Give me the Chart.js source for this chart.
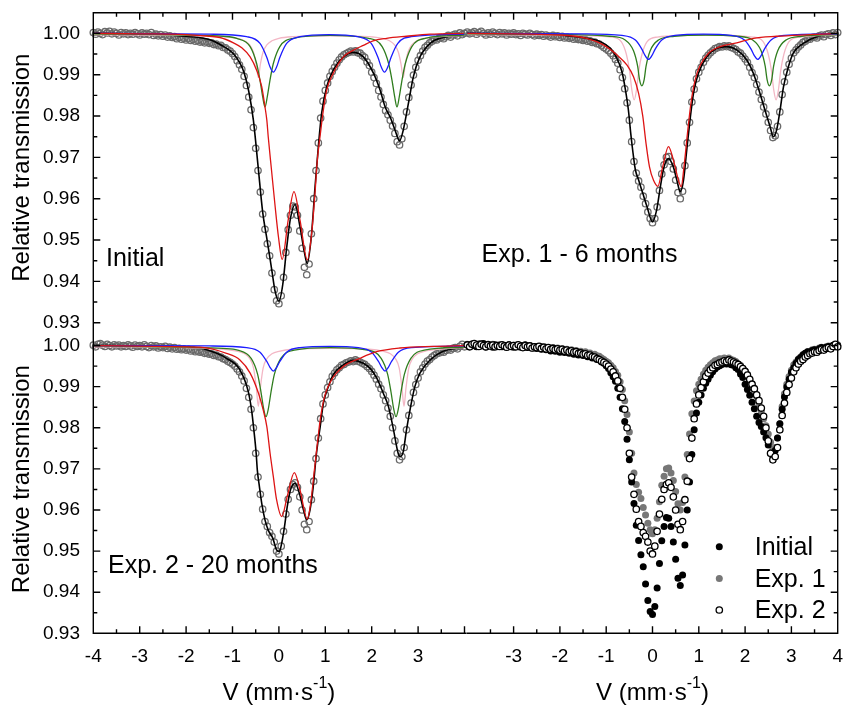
<!DOCTYPE html>
<html>
<head>
<meta charset="utf-8">
<title>Mössbauer spectra</title>
<script src="https://cdn.jsdelivr.net/npm/chart.js@4.4.1/dist/chart.umd.min.js"></script>
<style>
  html, body { margin: 0; padding: 0; background: #fff; }
  #wrap { position: relative; width: 843px; height: 706px; overflow: hidden; background: #fff; }
  #wrap canvas { position: absolute; }
</style>
</head>
<body>
<div id="wrap"></div>
<script>
const FONT = '"Liberation Sans", Arial, sans-serif';

// velocity of the measured channels (mm/s)
const velocity = [
  -4.00,-3.95,-3.90,-3.85,-3.80,-3.75,-3.70,-3.65,-3.60,-3.55,-3.50,-3.45,-3.40,-3.35,-3.30,-3.25,-3.20,-3.15,-3.10,-3.05,
  -3.00,-2.95,-2.90,-2.85,-2.80,-2.75,-2.70,-2.65,-2.60,-2.55,-2.50,-2.45,-2.40,-2.35,-2.30,-2.25,-2.20,-2.15,-2.10,-2.05,
  -2.00,-1.95,-1.90,-1.85,-1.80,-1.75,-1.70,-1.65,-1.60,-1.55,-1.50,-1.45,-1.40,-1.35,-1.30,-1.25,-1.20,-1.15,-1.10,-1.05,
  -1.00,-0.95,-0.90,-0.85,-0.80,-0.75,-0.70,-0.65,-0.60,-0.55,-0.50,-0.45,-0.40,-0.35,-0.30,-0.25,-0.20,-0.15,-0.10,-0.05,
  0.00,0.05,0.10,0.15,0.20,0.25,0.30,0.35,0.40,0.45,0.50,0.55,0.60,0.65,0.70,0.75,0.80,0.85,0.90,0.95,
  1.00,1.05,1.10,1.15,1.20,1.25,1.30,1.35,1.40,1.45,1.50,1.55,1.60,1.65,1.70,1.75,1.80,1.85,1.90,1.95,
  2.00,2.05,2.10,2.15,2.20,2.25,2.30,2.35,2.40,2.45,2.50,2.55,2.60,2.65,2.70,2.75,2.80,2.85,2.90,2.95,
  3.00,3.05,3.10,3.15,3.20,3.25,3.30,3.35,3.40,3.45,3.50,3.55,3.60,3.65,3.70,3.75,3.80,3.85,3.90,3.95,
  4.00
];

// measured relative transmission
const initialData = [
  1.0002,0.9998,1.0003,1.0000,0.9997,1.0004,1.0001,1.0005,0.9999,1.0003,1.0000,0.9996,1.0002,0.9999,1.0001,0.9997,1.0000,0.9998,1.0002,0.9999,
  0.9996,1.0001,0.9998,1.0000,0.9997,1.0002,0.9995,0.9998,0.9994,0.9997,0.9993,0.9996,0.9991,0.9994,0.9990,0.9992,0.9987,0.9990,0.9986,0.9988,
  0.9984,0.9987,0.9983,0.9985,0.9981,0.9983,0.9979,0.9981,0.9977,0.9979,0.9976,0.9977,0.9973,0.9974,0.9970,0.9971,0.9966,0.9965,0.9960,0.9957,
  0.9951,0.9944,0.9934,0.9924,0.9913,0.9896,0.9874,0.9846,0.9815,0.9772,0.9722,0.9668,0.9616,0.9563,0.9526,0.9491,0.9462,0.9420,0.9380,0.9353,
  0.9346,0.9365,0.9410,0.9470,0.9525,0.9560,0.9582,0.9580,0.9560,0.9522,0.9480,0.9434,0.9416,0.9442,0.9515,0.9600,0.9668,0.9735,0.9795,0.9836,
  0.9862,0.9880,0.9896,0.9908,0.9918,0.9928,0.9936,0.9943,0.9948,0.9951,0.9954,0.9957,0.9955,0.9958,0.9953,0.9952,0.9946,0.9942,0.9931,0.9922,
  0.9906,0.9893,0.9879,0.9862,0.9846,0.9828,0.9813,0.9803,0.9790,0.9776,0.9758,0.9738,0.9730,0.9745,0.9775,0.9810,0.9845,0.9875,0.9899,0.9918,
  0.9935,0.9946,0.9957,0.9966,0.9971,0.9977,0.9981,0.9985,0.9984,0.9988,0.9990,0.9987,0.9992,0.9995,0.9991,0.9996,0.9998,0.9994,1.0001,0.9997,
  1.0000
];
const exp1Data = [
  1.0003,0.9999,1.0001,1.0004,0.9998,1.0002,1.0005,1.0000,0.9996,1.0001,0.9998,1.0003,1.0000,0.9997,1.0002,0.9999,1.0001,0.9996,1.0000,0.9998,
  1.0001,0.9997,0.9999,0.9995,1.0000,0.9998,0.9996,1.0000,0.9997,0.9994,0.9998,0.9995,0.9997,0.9993,0.9996,0.9994,0.9991,0.9995,0.9992,0.9994,
  0.9990,0.9993,0.9989,0.9991,0.9988,0.9990,0.9986,0.9988,0.9985,0.9986,0.9983,0.9985,0.9981,0.9982,0.9978,0.9979,0.9975,0.9974,0.9970,0.9966,
  0.9962,0.9958,0.9952,0.9946,0.9937,0.9928,0.9912,0.9893,0.9866,0.9832,0.9790,0.9738,0.9690,0.9662,0.9643,0.9628,0.9606,0.9588,0.9568,0.9552,
  0.9542,0.9552,0.9580,0.9620,0.9660,0.9682,0.9700,0.9702,0.9690,0.9672,0.9645,0.9615,0.9600,0.9618,0.9680,0.9735,0.9785,0.9834,0.9865,0.9890,
  0.9906,0.9918,0.9930,0.9940,0.9947,0.9953,0.9958,0.9963,0.9965,0.9968,0.9967,0.9970,0.9968,0.9970,0.9966,0.9964,0.9961,0.9955,0.9952,0.9945,
  0.9938,0.9930,0.9918,0.9905,0.9893,0.9876,0.9858,0.9840,0.9822,0.9805,0.9785,0.9765,0.9748,0.9752,0.9775,0.9810,0.9852,0.9883,0.9906,0.9925,
  0.9940,0.9953,0.9960,0.9967,0.9972,0.9978,0.9981,0.9985,0.9986,0.9990,0.9991,0.9989,0.9994,0.9996,0.9992,0.9997,0.9999,0.9995,1.0001,0.9997,
  1.0002
];
const exp2Data = [
  1.0001,0.9997,1.0003,1.0005,1.0001,0.9998,1.0003,1.0000,0.9997,1.0002,0.9999,1.0001,0.9997,1.0000,0.9998,1.0002,0.9999,0.9996,1.0001,0.9998,
  1.0000,0.9997,1.0002,0.9998,0.9995,1.0000,0.9997,0.9999,0.9994,0.9997,0.9995,0.9998,0.9993,0.9996,0.9992,0.9995,0.9991,0.9993,0.9990,0.9992,
  0.9989,0.9991,0.9987,0.9989,0.9985,0.9987,0.9984,0.9985,0.9981,0.9982,0.9979,0.9980,0.9976,0.9977,0.9973,0.9972,0.9968,0.9966,0.9962,0.9959,
  0.9955,0.9950,0.9943,0.9936,0.9926,0.9914,0.9896,0.9874,0.9845,0.9800,0.9738,0.9680,0.9638,0.9602,0.9572,0.9560,0.9545,0.9536,0.9522,0.9500,
  0.9493,0.9512,0.9548,0.9590,0.9626,0.9650,0.9662,0.9666,0.9655,0.9632,0.9600,0.9565,0.9552,0.9572,0.9625,0.9670,0.9725,0.9775,0.9822,0.9858,
  0.9880,0.9898,0.9912,0.9925,0.9933,0.9941,0.9946,0.9952,0.9954,0.9958,0.9960,0.9963,0.9961,0.9965,0.9962,0.9960,0.9957,0.9954,0.9949,0.9944,
  0.9937,0.9928,0.9918,0.9906,0.9895,0.9880,0.9866,0.9848,0.9828,0.9800,0.9768,0.9738,0.9722,0.9730,0.9752,0.9795,0.9830,0.9860,0.9886,0.9905,
  0.9921,0.9936,0.9946,0.9955,0.9962,0.9966,0.9972,0.9976,0.9980,0.9982,0.9985,0.9984,0.9988,0.9991,0.9989,0.9993,0.9995,0.9992,0.9998,1.0003,
  0.9997
];

// fitted curves, [velocity, transmission]
const initialTotal = [[-4,1.0000],[-3,0.9999],[-2.5,0.9997],[-2,0.9993],[-1.5,0.9985],[-1.25,0.9972],[-1.0,0.9953],[-0.85,0.9930],[-0.75,0.9905],[-0.65,0.9860],[-0.55,0.9790],[-0.45,0.9680],[-0.35,0.9568],[-0.25,0.9497],[-0.15,0.9425],[-0.08,0.9375],[0,0.9352],[0.08,0.9390],[0.17,0.9484],[0.25,0.9553],[0.35,0.9586],[0.45,0.9535],[0.55,0.9470],[0.61,0.9443],[0.7,0.9510],[0.78,0.9630],[0.85,0.9726],[0.92,0.9806],[1.03,0.9871],[1.17,0.9911],[1.39,0.9943],[1.6,0.9954],[1.82,0.9943],[2.04,0.9903],[2.18,0.9863],[2.29,0.9822],[2.4,0.9797],[2.5,0.9767],[2.6,0.9740],[2.68,0.9766],[2.79,0.9830],[2.9,0.9896],[3.04,0.9943],[3.26,0.9976],[3.5,0.9989],[3.85,0.9995],[4,0.9996]];
const initialRed = [[-4,1.0000],[-3,0.9999],[-2,0.9997],[-1.5,0.9993],[-1.27,0.9990],[-0.98,0.9977],[-0.8,0.9965],[-0.62,0.9943],[-0.48,0.9911],[-0.37,0.9871],[-0.30,0.9822],[-0.26,0.9790],[-0.23,0.9750],[-0.16,0.9670],[-0.08,0.9580],[-0.01,0.9508],[0.07,0.9453],[0.2,0.9548],[0.325,0.9617],[0.455,0.9548],[0.613,0.9452],[0.706,0.9516],[0.778,0.9613],[0.828,0.9694],[0.886,0.9750],[0.958,0.9814],[1.03,0.9863],[1.17,0.9903],[1.39,0.9943],[1.6,0.9959],[1.82,0.9971],[2.03,0.9982],[2.32,0.9988],[2.75,0.9993],[3.26,0.9998],[4,1.0000]];
const initialBlue = [[-4,1.0000],[-1.5,0.9998],[-0.695,0.9992],[-0.407,0.9976],[-0.264,0.9943],[-0.192,0.9919],[-0.12,0.9906],[-0.048,0.9919],[0.024,0.9943],[0.167,0.9976],[0.455,0.9992],[1.08,0.9997],[1.70,0.9992],[1.989,0.9976],[2.132,0.9943],[2.204,0.9919],[2.276,0.9906],[2.348,0.9919],[2.42,0.9943],[2.563,0.9976],[2.851,0.9992],[4,0.9998]];
const initialGreen = [[-4,0.9999],[-2,0.9996],[-1.2,0.9993],[-0.91,0.9988],[-0.62,0.9968],[-0.48,0.9927],[-0.408,0.9887],[-0.35,0.9847],[-0.30,0.9822],[-0.25,0.9847],[-0.192,0.9887],[-0.12,0.9927],[0.02,0.9968],[0.31,0.9988],[1.1,0.9995],[1.935,0.9988],[2.225,0.9968],[2.365,0.9927],[2.437,0.9887],[2.495,0.9847],[2.545,0.9822],[2.595,0.9847],[2.653,0.9887],[2.725,0.9927],[2.865,0.9968],[3.155,0.9988],[4,0.9996]];
const initialPink = [[-4,0.9997],[-2,0.9995],[-1.2,0.9992],[-0.9,0.9988],[-0.74,0.9982],[-0.63,0.9972],[-0.55,0.9955],[-0.49,0.9925],[-0.443,0.9893],[-0.40,0.9925],[-0.34,0.9955],[-0.26,0.9972],[-0.15,0.9982],[0.0,0.9988],[0.3,0.9992],[1.12,0.9994],[1.94,0.9992],[2.223,0.9988],[2.383,0.9982],[2.493,0.9972],[2.573,0.9955],[2.633,0.9925],[2.68,0.9893],[2.723,0.9925],[2.783,0.9955],[2.863,0.9972],[2.973,0.9982],[3.123,0.9988],[3.423,0.9992],[4,0.9995]];

const exp1Total = [[-4,1.0000],[-3,0.9999],[-2,0.9996],[-1.42,0.9988],[-1.13,0.9980],[-0.91,0.9964],[-0.77,0.9940],[-0.66,0.9907],[-0.59,0.9867],[-0.52,0.9814],[-0.47,0.9758],[-0.42,0.9710],[-0.37,0.9670],[-0.30,0.9645],[-0.21,0.9613],[-0.12,0.9581],[0.0,0.9544],[0.09,0.9573],[0.17,0.9629],[0.25,0.9677],[0.345,0.9697],[0.45,0.9677],[0.525,0.9645],[0.6,0.9617],[0.67,0.9645],[0.74,0.9718],[0.81,0.9790],[0.885,0.9855],[0.99,0.9903],[1.17,0.9943],[1.39,0.9964],[1.6,0.9968],[1.82,0.9960],[2.04,0.9935],[2.18,0.9903],[2.32,0.9855],[2.43,0.9814],[2.54,0.9774],[2.61,0.9750],[2.68,0.9766],[2.755,0.9814],[2.83,0.9871],[2.935,0.9919],[3.04,0.9952],[3.26,0.9976],[3.55,0.9992],[4,0.9998]];
const exp1Red = [[-4,1.0000],[-2,0.9996],[-1.42,0.9988],[-1.06,0.9972],[-0.77,0.9948],[-0.55,0.9923],[-0.41,0.9895],[-0.30,0.9855],[-0.21,0.9800],[-0.14,0.9734],[-0.065,0.9677],[0.02,0.9645],[0.115,0.9630],[0.22,0.9677],[0.345,0.9726],[0.45,0.9694],[0.56,0.9645],[0.62,0.9629],[0.68,0.9677],[0.755,0.9758],[0.83,0.9831],[0.92,0.9887],[1.03,0.9923],[1.21,0.9952],[1.46,0.9968],[1.82,0.9977],[2.18,0.9988],[2.68,0.9993],[3.4,0.9997],[4,1.0000]];
const exp1Blue = [[-4,1.0000],[-1.5,0.9999],[-0.66,0.9995],[-0.37,0.9984],[-0.23,0.9962],[-0.158,0.9946],[-0.086,0.9937],[-0.014,0.9946],[0.058,0.9962],[0.2,0.9984],[0.49,0.9995],[1.1,0.9998],[1.7,0.9995],[1.986,0.9984],[2.129,0.9962],[2.2,0.9946],[2.273,0.9937],[2.345,0.9946],[2.417,0.9962],[2.56,0.9984],[2.85,0.9995],[4,0.9999]];
const exp1Green = [[-4,0.9999],[-2,0.9997],[-0.93,0.9993],[-0.59,0.9984],[-0.41,0.9958],[-0.32,0.9920],[-0.28,0.9888],[-0.23,0.9873],[-0.18,0.9888],[-0.14,0.9920],[-0.05,0.9958],[0.13,0.9984],[0.47,0.9993],[1.15,0.9996],[1.825,0.9993],[2.165,0.9984],[2.345,0.9958],[2.435,0.9920],[2.475,0.9888],[2.525,0.9873],[2.575,0.9888],[2.615,0.9920],[2.705,0.9958],[2.885,0.9984],[3.225,0.9993],[4,0.9997]];
const exp1Pink = [[-4,0.9997],[-2,0.9996],[-0.896,0.9991],[-0.676,0.9980],[-0.566,0.9950],[-0.496,0.9910],[-0.446,0.9863],[-0.396,0.9839],[-0.346,0.9863],[-0.296,0.9910],[-0.226,0.9950],[-0.116,0.9980],[0.104,0.9991],[1.14,0.9996],[2.169,0.9991],[2.389,0.9980],[2.499,0.9950],[2.569,0.9910],[2.619,0.9863],[2.669,0.9839],[2.719,0.9863],[2.769,0.9910],[2.839,0.9950],[2.949,0.9980],[3.169,0.9991],[4,0.9996]];

const exp2Total = [[-4,1.0000],[-3,0.9999],[-2,0.9996],[-1.7,0.9994],[-1.34,0.9981],[-1.13,0.9969],[-0.84,0.9941],[-0.66,0.9888],[-0.59,0.9844],[-0.54,0.9795],[-0.49,0.9738],[-0.465,0.9697],[-0.42,0.9657],[-0.37,0.9616],[-0.30,0.9576],[-0.23,0.9551],[-0.13,0.9531],[-0.05,0.9503],[0.01,0.9499],[0.06,0.9519],[0.12,0.9559],[0.18,0.9608],[0.25,0.9649],[0.35,0.9665],[0.44,0.9641],[0.53,0.9600],[0.6,0.9576],[0.67,0.9600],[0.74,0.9657],[0.81,0.9738],[0.89,0.9803],[0.96,0.9860],[1.065,0.9900],[1.17,0.9929],[1.39,0.9953],[1.6,0.9964],[1.82,0.9957],[1.96,0.9945],[2.11,0.9921],[2.25,0.9884],[2.36,0.9852],[2.47,0.9795],[2.57,0.9738],[2.61,0.9730],[2.68,0.9742],[2.75,0.9795],[2.84,0.9852],[2.93,0.9900],[3.04,0.9933],[3.26,0.9965],[3.54,0.9986],[4,0.9996]];
const exp2Red = [[-4,1.0000],[-2,0.9997],[-1.7,0.9996],[-1.13,0.9981],[-0.84,0.9965],[-0.62,0.9933],[-0.44,0.9884],[-0.34,0.9844],[-0.26,0.9803],[-0.19,0.9738],[-0.12,0.9681],[-0.05,0.9625],[0.06,0.9584],[0.18,0.9633],[0.333,0.9691],[0.455,0.9649],[0.613,0.9578],[0.685,0.9617],[0.757,0.9689],[0.829,0.9762],[0.9,0.9827],[0.994,0.9880],[1.137,0.9917],[1.389,0.9949],[1.748,0.9969],[2.107,0.9985],[2.61,0.9994],[3.33,0.9998],[4,1.0000]];
const exp2Blue = [[-4,1.0000],[-1.5,0.9999],[-0.695,0.9995],[-0.407,0.9984],[-0.264,0.9962],[-0.192,0.9947],[-0.12,0.9938],[-0.048,0.9947],[0.024,0.9962],[0.167,0.9984],[0.455,0.9995],[1.1,0.9998],[1.712,0.9995],[2.0,0.9984],[2.143,0.9962],[2.215,0.9947],[2.287,0.9938],[2.359,0.9947],[2.431,0.9962],[2.574,0.9984],[2.862,0.9995],[4,0.9999]];
const exp2Green = [[-4,0.9999],[-2,0.9996],[-1.2,0.9993],[-0.888,0.9989],[-0.598,0.9969],[-0.458,0.9930],[-0.386,0.9887],[-0.328,0.9846],[-0.278,0.9827],[-0.228,0.9846],[-0.17,0.9887],[-0.098,0.9930],[0.042,0.9969],[0.332,0.9989],[1.1,0.9995],[1.914,0.9989],[2.204,0.9969],[2.344,0.9930],[2.416,0.9887],[2.474,0.9846],[2.524,0.9827],[2.574,0.9846],[2.632,0.9887],[2.704,0.9930],[2.844,0.9969],[3.134,0.9989],[4,0.9996]];
const exp2Pink = [[-4,0.9997],[-2,0.9995],[-1.193,0.9991],[-0.886,0.9986],[-0.736,0.9980],[-0.626,0.9968],[-0.546,0.9945],[-0.486,0.9897],[-0.443,0.9852],[-0.40,0.9897],[-0.34,0.9945],[-0.26,0.9968],[-0.15,0.9980],[0.0,0.9986],[0.307,0.9991],[1.13,0.9993],[1.946,0.9991],[2.253,0.9986],[2.403,0.9980],[2.513,0.9968],[2.593,0.9945],[2.653,0.9897],[2.696,0.9852],[2.739,0.9897],[2.799,0.9945],[2.879,0.9968],[2.989,0.9980],[3.139,0.9986],[3.446,0.9991],[4,0.9995]];

// ticks
const yMajor = [0.93, 0.94, 0.95, 0.96, 0.97, 0.98, 0.99, 1.00];
const yMinor = [0.935, 0.945, 0.955, 0.965, 0.975, 0.985, 0.995];
const xMajorLeft = [-4, -3, -2, -1, 0, 1, 2, 3, 4];
const xMajorRight = [-3, -2, -1, 0, 1, 2, 3, 4];
const xMinor = [-3.5, -2.5, -1.5, -0.5, 0.5, 1.5, 2.5, 3.5];
const leftXLabels = [-4, -3, -2, -1, 0, 1, 2, 3];
const rightXLabels = [-3, -2, -1, 0, 1, 2, 3, 4];

const colors = {
  red: '#dd1414', blue: '#1c1cff', green: '#2f7d1e', pink: '#f3b7c5',
  total: '#000000', points: '#6a6a6a', exp1: '#777777'
};

const wrap = document.getElementById('wrap');

function makeCanvas(left, top, w, h) {
  const c = document.createElement('canvas');
  c.width = w; c.height = h;
  c.style.left = left + 'px'; c.style.top = top + 'px';
  c.style.width = w + 'px'; c.style.height = h + 'px';
  wrap.appendChild(c);
  return c;
}

const toXY = pairs => pairs.map(([x, y]) => ({ x, y }));
const measured = vals => velocity.map((v, i) => ({ x: v, y: vals[i] }));

function curve(pairs, color, width) {
  return {
    data: toXY(pairs), borderColor: color, borderWidth: width,
    pointRadius: 0, fill: false, cubicInterpolationMode: 'monotone', clip: 3
  };
}

function fitted(total, red, blue, green, pink, vals) {
  return [
    curve(red, colors.red, 1.3),
    curve(blue, colors.blue, 1.3),
    curve(green, colors.green, 1.3),
    curve(pink, colors.pink, 1.3),
    curve(total, colors.total, 1.6),
    {
      data: measured(vals), showLine: false, pointRadius: 3.2, pointBorderWidth: 1.3,
      pointBorderColor: colors.points, pointBackgroundColor: 'rgba(0,0,0,0)', clip: 6
    }
  ];
}

// box lines + inward ticks
function framePlugin(sides, ext, xMajor) {
  return {
    id: 'frame',
    afterDatasetsDraw(chart) {
      const { ctx, chartArea: a } = chart;
      const xs = chart.scales.x, ys = chart.scales.y;
      ctx.save();
      ctx.strokeStyle = '#000';
      ctx.lineWidth = 1.4;
      ctx.beginPath();
      if (sides.top) { ctx.moveTo(a.left - ext.l, a.top); ctx.lineTo(a.right + ext.r, a.top); }
      if (sides.bottom) { ctx.moveTo(a.left - ext.l, a.bottom); ctx.lineTo(a.right + ext.r, a.bottom); }
      if (sides.left) { ctx.moveTo(a.left, a.top - ext.t); ctx.lineTo(a.left, a.bottom + ext.b); }
      if (sides.right) { ctx.moveTo(a.right, a.top - ext.t); ctx.lineTo(a.right, a.bottom + ext.b); }
      const xt = (vals, len) => vals.forEach(v => {
        const px = xs.getPixelForValue(v);
        if (sides.top) { ctx.moveTo(px, a.top); ctx.lineTo(px, a.top + len); }
        if (sides.bottom) { ctx.moveTo(px, a.bottom); ctx.lineTo(px, a.bottom - len); }
      });
      const yt = (vals, len) => vals.forEach(v => {
        const py = ys.getPixelForValue(v);
        if (sides.left) { ctx.moveTo(a.left, py); ctx.lineTo(a.left + len, py); }
        if (sides.right) { ctx.moveTo(a.right, py); ctx.lineTo(a.right - len, py); }
      });
      xt(xMajor, 7); xt(xMinor, 4);
      yt(yMajor, 7); yt(yMinor, 4);
      ctx.stroke();
      ctx.restore();
    }
  };
}

// panel caption, x axis title, legend
function textPlugin(cfg) {
  return {
    id: 'texts',
    afterDraw(chart) {
      const { ctx, chartArea: a } = chart;
      ctx.save();
      ctx.fillStyle = '#000';
      ctx.textBaseline = 'alphabetic';
      ctx.textAlign = 'left';
      if (cfg.caption) {
        ctx.font = '25px ' + FONT;
        ctx.fillText(cfg.caption, a.left + cfg.dx, a.top + cfg.dy);
      }
      if (cfg.xTitle) {
        const big = '24px ' + FONT, small = '16px ' + FONT;
        ctx.font = big; const w1 = ctx.measureText('V (mm·s').width; const w3 = ctx.measureText(')').width;
        ctx.font = small; const w2 = ctx.measureText('-1').width;
        let x = (a.left + a.right) / 2 - (w1 + w2 + w3) / 2;
        const y = a.bottom + 66.7;
        ctx.font = big; ctx.fillText('V (mm·s', x, y); x += w1;
        ctx.font = small; ctx.fillText('-1', x, y - 12); x += w2;
        ctx.font = big; ctx.fillText(')', x, y);
      }
      if (cfg.legend) {
        const rows = [-78.3, -46.6, -15];
        cfg.legend.forEach((label, i) => {
          const ds = chart.data.datasets.find(d => d.label === label);
          const my = a.bottom + rows[i] - 8.3;
          const mx = a.right - 118.4;
          ctx.beginPath();
          ctx.arc(mx, my, ds.pointRadius, 0, Math.PI * 2);
          ctx.fillStyle = ds.pointBackgroundColor;
          ctx.fill();
          if (ds.pointBorderWidth) { ctx.lineWidth = ds.pointBorderWidth; ctx.strokeStyle = ds.pointBorderColor; ctx.stroke(); }
          ctx.fillStyle = '#000';
          ctx.font = '25px ' + FONT;
          ctx.fillText(label, a.right - 83, a.bottom + rows[i]);
        });
      }
      ctx.restore();
    }
  };
}

function xScale(show, labels) {
  return {
    type: 'linear', min: -4, max: 4, display: show,
    grid: { display: false, drawTicks: false }, border: { display: false },
    afterBuildTicks: s => { s.ticks = labels.map(v => ({ value: v })); },
    afterFit: s => { if (show) { s.height = 72.7; s.paddingLeft = 0; s.paddingRight = 0; } },
    ticks: {
      autoSkip: false, maxRotation: 0, padding: 12, color: '#000',
      font: { family: FONT, size: 19 }, callback: v => String(v)
    }
  };
}

function yScale(show, position) {
  return {
    type: 'linear', min: 0.93, max: 1.005, display: show, position,
    grid: { display: false, drawTicks: false }, border: { display: false },
    afterBuildTicks: s => { s.ticks = yMajor.map(v => ({ value: v })); },
    afterFit: s => { if (show) { s.width = 93.3; s.paddingTop = 0; s.paddingBottom = 0; } },
    ticks: { padding: 13.3, color: '#000', font: { family: FONT, size: 19 }, callback: v => v.toFixed(2) },
    title: {
      display: true, text: 'Relative transmission', color: '#000',
      font: { family: FONT, size: 24 }, padding: { top: 8, bottom: 0 }
    }
  };
}

function panel(box, padding, datasets, scales, plugins) {
  const canvas = makeCanvas(box[0], box[1], box[2], box[3]);
  return new Chart(canvas, {
    type: 'line',
    data: { datasets },
    options: {
      responsive: false, maintainAspectRatio: false, animation: false, events: [],
      layout: { padding },
      plugins: { legend: { display: false }, tooltip: { enabled: false } },
      scales
    },
    plugins
  });
}

// top left: initial
panel([0, 0, 470, 345], { left: 0, top: 12.7, right: 5.5, bottom: 22.3 },
  fitted(initialTotal, initialRed, initialBlue, initialGreen, initialPink, initialData),
  { x: xScale(false, leftXLabels), y: yScale(true, 'left') },
  [framePlugin({ top: true, left: true }, { l: 0.7, r: 1.5, t: 0.7, b: 1.3 }, xMajorLeft),
   textPlugin({ caption: 'Initial', dx: 12.7, dy: 253 })]);

// top right: experiment 1
panel([462, 0, 381, 345], { left: 5, top: 12.7, right: 5.3, bottom: 22.3 },
  fitted(exp1Total, exp1Red, exp1Blue, exp1Green, exp1Pink, exp1Data),
  { x: xScale(false, rightXLabels), y: yScale(false, 'right') },
  [framePlugin({ top: true, right: true }, { l: 1, r: 0.7, t: 0.7, b: 1.3 }, xMajorRight),
   textPlugin({ caption: 'Exp. 1 - 6 months', dx: 14.3, dy: 249 })]);

// bottom left: experiment 2
panel([0, 300, 470, 406], { left: 0, top: 25, right: 5.5, bottom: 0 },
  fitted(exp2Total, exp2Red, exp2Blue, exp2Green, exp2Pink, exp2Data),
  { x: xScale(true, leftXLabels), y: yScale(true, 'left') },
  [framePlugin({ bottom: true, left: true }, { l: 0.7, r: 1.5, t: 1, b: 0.7 }, xMajorLeft),
   textPlugin({ caption: 'Exp. 2 - 20 months', dx: 14.7, dy: 248.3, xTitle: true })]);

// bottom right: comparison of the three spectra
panel([462, 300, 381, 406], { left: 5, top: 25, right: 5.3, bottom: 0 },
  [
    { label: 'Exp. 2', data: measured(exp2Data), showLine: false, pointRadius: 3.2, pointBorderWidth: 1.3,
      pointBorderColor: '#000', pointBackgroundColor: '#ffffff', clip: 6 },
    { label: 'Initial', data: measured(initialData), showLine: false, pointRadius: 3.5, pointBorderWidth: 0,
      pointBackgroundColor: '#000000', clip: 6 },
    { label: 'Exp. 1', data: measured(exp1Data), showLine: false, pointRadius: 3.5, pointBorderWidth: 0,
      pointBackgroundColor: colors.exp1, clip: 6 }
  ],
  { x: xScale(true, rightXLabels), y: yScale(false, 'right') },
  [framePlugin({ bottom: true, right: true }, { l: 1, r: 0.7, t: 1, b: 0.7 }, xMajorRight),
   textPlugin({ xTitle: true, legend: ['Initial', 'Exp. 1', 'Exp. 2'] })]);
</script>
</body>
</html>
